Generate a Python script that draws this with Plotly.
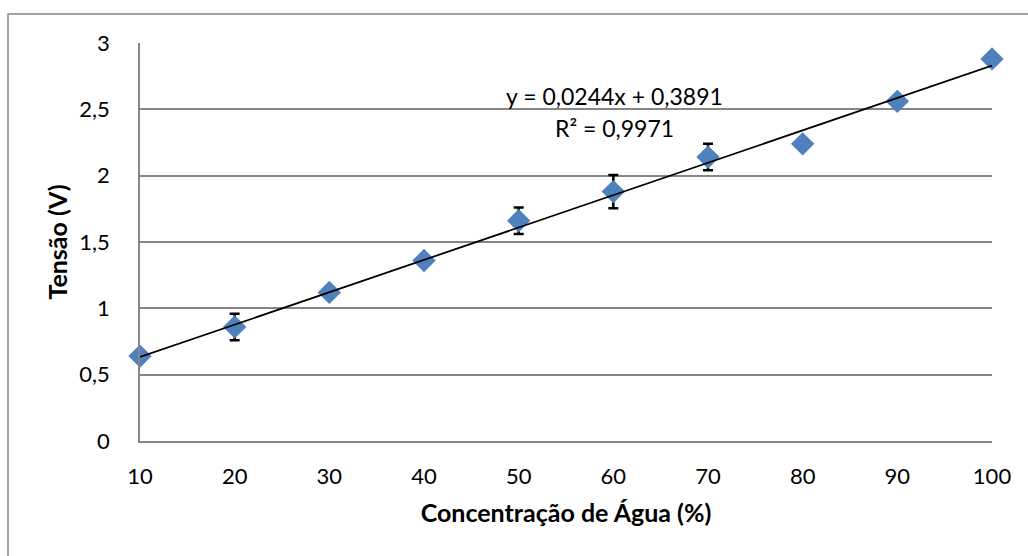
import plotly.graph_objects as go

concentracao = [10, 20, 30, 40, 50, 60, 70, 80, 90, 100]
tensao = [0.64, 0.86, 1.12, 1.36, 1.66, 1.88, 2.14, 2.24, 2.56, 2.88]
erro = [0, 0.1, 0, 0, 0.1, 0.125, 0.1, 0, 0, 0]
x_ticks = [10, 20, 30, 40, 50, 60, 70, 80, 90, 100]
y_ticks = [0, 0.5, 1, 1.5, 2, 2.5, 3]
y_tick_labels = ["0", "0,5", "1", "1,5", "2", "2,5", "3"]
slope = 0.0244
intercept = 0.3891
trend_x = [10, 100]

FONT = "Lato, 'Open Sans', sans-serif"
TICK = 22
ANN = 23
TITLE = 25

fig = go.Figure()
fig.add_trace(go.Scatter(
    x=concentracao, y=tensao, mode="markers",
    marker=dict(symbol="diamond", size=18, color="#4F81BD"),
    error_y=dict(type="data", array=erro, visible=True, color="black", thickness=2.5, width=5),
    showlegend=False, cliponaxis=False,
))
fig.add_trace(go.Scatter(
    x=trend_x, y=[slope * v + intercept for v in trend_x], mode="lines",
    line=dict(color="black", width=1.8), showlegend=False, cliponaxis=False,
))

fig.update_layout(
    width=1028, height=556,
    margin=dict(l=140, r=36, t=43, b=115),
    paper_bgcolor="white", plot_bgcolor="white",
    font=dict(family=FONT, size=TICK, color="black"),
    xaxis=dict(range=[10, 100], tickvals=x_ticks, ticktext=[str(v) for v in x_ticks],
               showgrid=False, zeroline=False, showline=True, linecolor="#868686", linewidth=1.5,
               ticks="", ticklabelstandoff=15, tickfont=dict(size=TICK),
               title=dict(text="<b>Concentração de Água (%)</b>", font=dict(size=TITLE), standoff=16)),
    yaxis=dict(range=[0, 3], tickvals=y_ticks, ticktext=y_tick_labels,
               showgrid=True, gridcolor="#868686", gridwidth=1.5, zeroline=False,
               showline=True, linecolor="#868686", linewidth=1.5, ticks="",
               ticklabelstandoff=24, tickfont=dict(size=TICK),
               title=dict(text="<b>Tensão (V)</b>", font=dict(size=TITLE), standoff=5)),
    annotations=[
        dict(x=(614 - 140) / 852, y=(441 - 96) / 398, xref="paper", yref="paper",
             text="y = 0,0244x + 0,3891", showarrow=False, font=dict(size=ANN),
             xanchor="center", yanchor="middle"),
        dict(x=(614 - 140) / 852, y=(441 - 128) / 398, xref="paper", yref="paper",
             text="R² = 0,9971", showarrow=False, font=dict(size=ANN),
             xanchor="center", yanchor="middle"),
    ],
    shapes=[dict(type="rect", xref="paper", yref="paper",
                 x0=(8 - 140) / 852, x1=1.2, y0=-0.5, y1=(441 - 14) / 398,
                 line=dict(color="#868686", width=1.5), layer="below")],
)
fig.write_html("out.html")
